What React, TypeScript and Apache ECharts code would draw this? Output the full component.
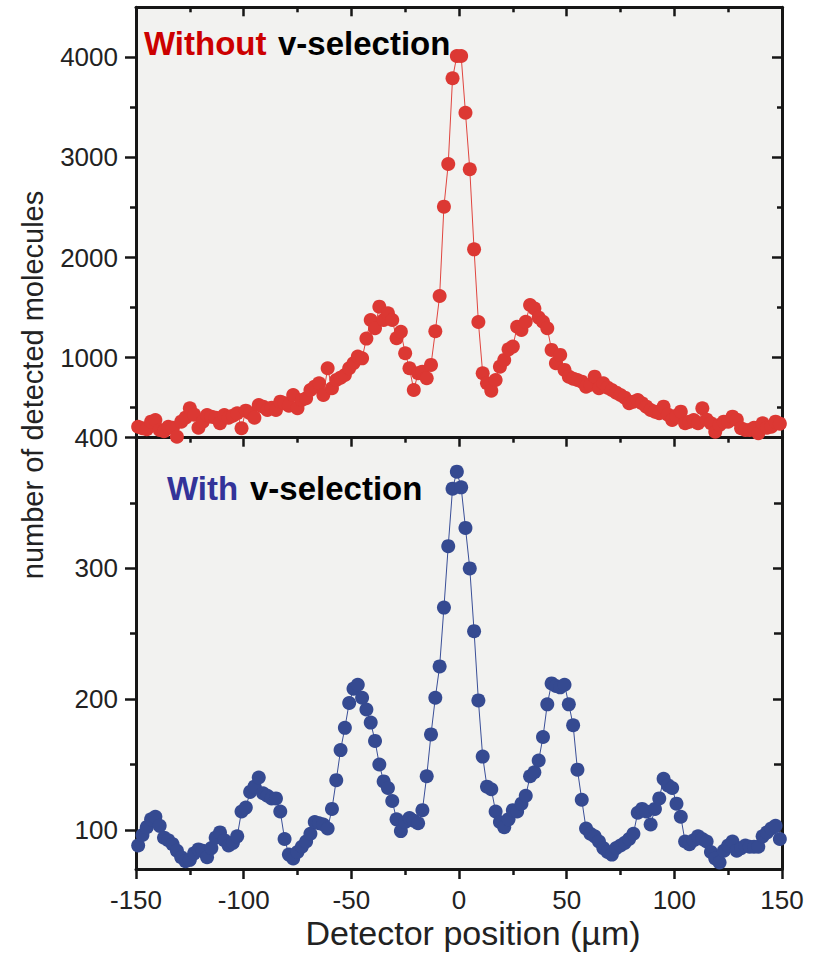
import React, { useEffect, useRef } from "react";
import * as echarts from "echarts";

// Detector positions (µm): x grid
const positionStart = -149;
const positionStep = 2;

// x-axis ticks
const xTickLabels = [-150, -100, -50, 0, 50, 100, 150];

// y-axis ticks
const topMajorTicks = [1000, 2000, 3000, 4000];
const topMinorTicks = [500, 1500, 2500, 3500];
const bottomMajorTicks = [100, 200, 300, 400];
const bottomMinorTicks = [150, 250, 350];

// "Without v-selection" (red), x = -149 .. -1
const withoutLeft = [
  310, 294, 285, 360, 377, 277, 265, 310, 300, 210,
  360, 400, 494, 430, 300, 360, 427, 410, 400, 344,
  427, 400, 420, 444, 294, 470, 444, 400, 527, 510,
  477, 500, 477, 560, 544, 520, 627, 494, 577, 594,
  677, 710, 744, 627, 894, 694, 777, 800, 827, 894,
  944, 1010, 993, 1190, 1376, 1293, 1509, 1376, 1443, 1376,
  1193, 1259, 1044, 894, 677, 844, 860, 794, 927, 1263,
  1616, 2508, 2935, 3791, 4013,
];
// x = 1 .. 149
const withoutRight = [
  4013, 3447, 2882, 2082, 1356, 844, 744, 670, 777, 910,
  977, 1083, 1110, 1309, 1276, 1359, 1526, 1492, 1400, 1359,
  1293, 1077, 944, 1027, 877, 810, 790, 777, 760, 710,
  730, 810, 694, 744, 700, 677, 650, 627, 600, 544,
  560, 577, 544, 510, 477, 460, 444, 510, 430, 377,
  420, 460, 344, 360, 377, 344, 494, 380, 344, 260,
  327, 360, 360, 410, 380, 294, 277, 277, 300, 244,
  344, 300, 310, 360, 340,
];

// "With v-selection" (blue), x = -149 .. -1
const withLeft = [
  88, 96, 102, 108, 110, 103, 94, 92, 89, 84,
  79, 76, 77, 82, 85, 84, 79, 86, 94, 98,
  92, 88, 90, 95, 114, 117, 129, 133, 140, 128,
  126, 124, 124, 114, 93, 81, 78, 83, 87, 91,
  97, 106, 105, 104, 101, 116, 138, 161, 178, 197,
  208, 211, 201, 192, 182, 168, 150, 137, 132, 122,
  108, 99, 106, 109, 107, 105, 115, 141, 173, 201,
  225, 270, 317, 361, 374,
];
// x = 1 .. 149
const withRight = [
  362, 331, 300, 252, 199, 156, 133, 131, 114, 106,
  102, 108, 115, 114, 120, 126, 141, 144, 153, 171,
  196, 212, 210, 209, 211, 196, 180, 146, 123, 101,
  97, 95, 91, 86, 83, 81, 86, 88, 90, 93,
  97, 113, 116, 114, 104, 116, 124, 139, 134, 132,
  120, 110, 91, 89, 92, 95, 93, 91, 83, 78,
  75, 84, 88, 91, 84, 86, 88, 87, 87, 87,
  95, 98, 101, 103, 93,
];

const FONT = '"Liberation Sans", Arial, Helvetica, sans-serif';
const AXIS_COLOR = "#161616";
const LABEL_COLOR = "#222222";

function toPairs(values: number[]): [number, number][] {
  return values.map((v, i) => [positionStart + i * positionStep, v]);
}

export default function App() {
  const ref = useRef<HTMLDivElement>(null);

  useEffect(() => {
    if (!ref.current) return;
    const chart = echarts.init(ref.current, undefined, { renderer: "svg" });

    const redData = toPairs([...withoutLeft, ...withoutRight]);
    const blueData = toPairs([...withLeft, ...withRight]);

    const lineStyle = { color: AXIS_COLOR, width: 3 };
    const tickStyle = { color: AXIS_COLOR, width: 2.5 };
    const fmt = (v: number) => String(v);

    const xBase = {
      type: "value" as const,
      min: xTickLabels[0],
      max: xTickLabels[xTickLabels.length - 1],
      interval: 50,
      splitLine: { show: false },
      axisLine: { show: true, onZero: false, lineStyle },
    };

    const yBase = {
      type: "value" as const,
      splitLine: { show: false },
      axisLine: { show: true, onZero: false, lineStyle },
    };

    const topRange = { min: 200, max: 4500 };
    const botRange = { min: 70, max: 400 };

    const option: any = {
      animation: false,
      backgroundColor: "#ffffff",
      grid: [
        { left: 136, top: 7.3, width: 646, height: 430.4, show: true, backgroundColor: "#f2f2f0", borderWidth: 0 },
        { left: 136, top: 437.7, width: 646, height: 431.3, show: true, backgroundColor: "#f2f2f0", borderWidth: 0 },
      ],
      xAxis: [
        { ...xBase, gridIndex: 0, position: "bottom", axisTick: { show: false }, axisLabel: { show: false } },
        {
          ...xBase, gridIndex: 0, position: "top",
          axisTick: { show: true, inside: true, length: 9, lineStyle: tickStyle },
          minorTick: { show: true, splitNumber: 2, length: 5, lineStyle: tickStyle },
          axisLabel: { show: false },
        },
        {
          ...xBase, gridIndex: 1, position: "bottom",
          axisTick: { show: true, inside: false, length: 10, lineStyle: tickStyle },
          minorTick: { show: true, splitNumber: 2, length: 6, lineStyle: tickStyle },
          axisLabel: { show: true, fontSize: 26, color: LABEL_COLOR, fontFamily: FONT, margin: 18, formatter: fmt },
        },
        {
          ...xBase, gridIndex: 1, position: "top",
          axisTick: { show: true, inside: true, length: 9, lineStyle: tickStyle },
          minorTick: { show: true, splitNumber: 2, length: 5, lineStyle: tickStyle },
          axisLabel: { show: false },
        },
      ],
      yAxis: [
        // top panel, left, majors + labels
        {
          ...yBase, ...topRange, gridIndex: 0, position: "left",
          axisTick: { show: true, inside: false, length: 11, lineStyle: tickStyle, customValues: topMajorTicks },
          axisLabel: { show: true, fontSize: 26, color: LABEL_COLOR, fontFamily: FONT, margin: 18, formatter: fmt, customValues: topMajorTicks },
        },
        // top panel, left, minors
        {
          ...yBase, ...topRange, gridIndex: 0, position: "left",
          axisLine: { show: false, onZero: false },
          axisTick: { show: true, inside: false, length: 6, lineStyle: tickStyle, customValues: topMinorTicks },
          axisLabel: { show: false },
        },
        // top panel, right, majors
        {
          ...yBase, ...topRange, gridIndex: 0, position: "right",
          axisTick: { show: true, inside: true, length: 10, lineStyle: tickStyle, customValues: topMajorTicks },
          axisLabel: { show: false },
        },
        // top panel, right, minors
        {
          ...yBase, ...topRange, gridIndex: 0, position: "right",
          axisLine: { show: false, onZero: false },
          axisTick: { show: true, inside: true, length: 5, lineStyle: tickStyle, customValues: topMinorTicks },
          axisLabel: { show: false },
        },
        // bottom panel, left, majors + labels
        {
          ...yBase, ...botRange, gridIndex: 1, position: "left",
          axisTick: { show: true, inside: false, length: 11, lineStyle: tickStyle, customValues: bottomMajorTicks },
          axisLabel: { show: true, fontSize: 26, color: LABEL_COLOR, fontFamily: FONT, margin: 18, formatter: fmt, customValues: bottomMajorTicks },
        },
        // bottom panel, left, minors
        {
          ...yBase, ...botRange, gridIndex: 1, position: "left",
          axisLine: { show: false, onZero: false },
          axisTick: { show: true, inside: false, length: 6, lineStyle: tickStyle, customValues: bottomMinorTicks },
          axisLabel: { show: false },
        },
        // bottom panel, right, majors
        {
          ...yBase, ...botRange, gridIndex: 1, position: "right",
          axisTick: { show: true, inside: true, length: 9, lineStyle: tickStyle, customValues: bottomMajorTicks },
          axisLabel: { show: false },
        },
        // bottom panel, right, minors
        {
          ...yBase, ...botRange, gridIndex: 1, position: "right",
          axisLine: { show: false, onZero: false },
          axisTick: { show: true, inside: true, length: 8, lineStyle: tickStyle, customValues: bottomMinorTicks },
          axisLabel: { show: false },
        },
      ],
      series: [
        {
          name: "Without v-selection",
          type: "line",
          xAxisIndex: 0,
          yAxisIndex: 0,
          data: redData,
          symbol: "circle",
          symbolSize: 14,
          clip: false,
          lineStyle: { color: "#e0453f", width: 1 },
          itemStyle: { color: "#dc3833" },
          z: 3,
        },
        {
          name: "With v-selection",
          type: "line",
          xAxisIndex: 2,
          yAxisIndex: 4,
          data: blueData,
          symbol: "circle",
          symbolSize: 14,
          clip: false,
          lineStyle: { color: "#3a4f98", width: 1 },
          itemStyle: { color: "#354a91" },
          z: 3,
        },
      ],
      graphic: {
        elements: [
          {
            type: "text", x: 144, y: 43, z: 10,
            style: { text: "Without", fill: "#cc0000", font: `bold 33px ${FONT}`, align: "left", verticalAlign: "middle", textAlign: "left", textVerticalAlign: "middle" },
          },
          {
            type: "text", x: 278, y: 43, z: 10,
            style: { text: "v-selection", fill: "#000000", font: `bold 33px ${FONT}`, align: "left", verticalAlign: "middle", textAlign: "left", textVerticalAlign: "middle" },
          },
          {
            type: "text", x: 167, y: 488.7, z: 10,
            style: { text: "With", fill: "#333399", font: `bold 33px ${FONT}`, align: "left", verticalAlign: "middle", textAlign: "left", textVerticalAlign: "middle" },
          },
          {
            type: "text", x: 250, y: 488.7, z: 10,
            style: { text: "v-selection", fill: "#000000", font: `bold 33px ${FONT}`, align: "left", verticalAlign: "middle", textAlign: "left", textVerticalAlign: "middle" },
          },
          {
            type: "text", x: 473, y: 932.5, z: 10,
            style: { text: "Detector position (µm)", fill: LABEL_COLOR, font: `34px ${FONT}`, align: "center", verticalAlign: "middle", textAlign: "center", textVerticalAlign: "middle" },
          },
          {
            type: "text", x: 32.5, y: 385, rotation: Math.PI / 2, z: 10,
            style: { text: "number of detected molecules", fill: LABEL_COLOR, font: `29px ${FONT}`, align: "center", verticalAlign: "middle", textAlign: "center", textVerticalAlign: "middle" },
          },
        ],
      },
    };

    chart.setOption(option);
    return () => chart.dispose();
  }, []);

  return (
    <div
      ref={ref}
      style={{ position: "absolute", left: 0, top: 0, width: 818, height: 966 }}
    />
  );
}
